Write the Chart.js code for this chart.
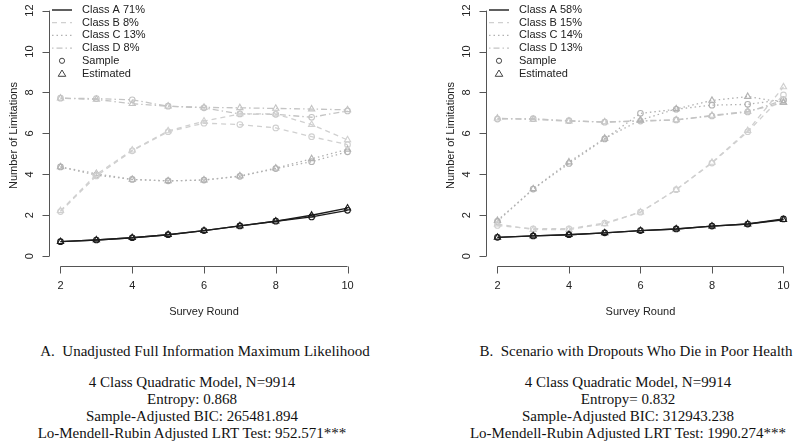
<!DOCTYPE html>
<html>
<head>
<meta charset="utf-8">
<script src="https://cdn.jsdelivr.net/npm/chart.js@4"></script>
<style>
  body { margin: 0; background: #fff; }
  #wrap { position: relative; width: 800px; height: 444px; overflow: hidden; }
  canvas { position: absolute; top: 0; }
  .cap { position: absolute; font-family: "Liberation Serif", "Times New Roman", serif; font-size: 15px; color: #111; text-align: center; white-space: pre; line-height: 17px; }
</style>
</head>
<body>
<div id="wrap">
  <canvas id="leftChart" width="400" height="330" style="left:0"></canvas>
  <canvas id="rightChart" width="400" height="330" style="left:400px"></canvas>
  <div class="cap" style="left:5px; width:400px; top:343px">A.  Unadjusted Full Information Maximum Likelihood</div>
  <div class="cap" style="left:-8px; width:400px; top:374px">4 Class Quadratic Model, N=9914
Entropy: 0.868
Sample-Adjusted BIC: 265481.894
Lo-Mendell-Rubin Adjusted LRT Test: 952.571***</div>
  <div class="cap" style="left:436px; width:400px; top:343px">B.  Scenario with Dropouts Who Die in Poor Health</div>
  <div class="cap" style="left:428px; width:400px; top:374px">4 Class Quadratic Model, N=9914
Entropy= 0.832
Sample-Adjusted BIC: 312943.238
Lo-Mendell-Rubin Adjusted LRT Test: 1990.274***</div>
</div>
<script>
// Data
const rounds = [2, 3, 4, 5, 6, 7, 8, 9, 10];
const xTicks = [2, 4, 6, 8, 10];
const yTicks = [0, 2, 4, 6, 8, 10, 12];
const classNames = ['Class A', 'Class B', 'Class C', 'Class D'];
const leftShares = [71, 8, 13, 8];
const rightShares = [58, 15, 14, 13];

// panel A - unadjusted FIML
const leftEstA = [0.71, 0.79, 0.90, 1.05, 1.25, 1.48, 1.71, 2.00, 2.35];
const leftSampA = [0.71, 0.79, 0.90, 1.05, 1.25, 1.48, 1.71, 1.92, 2.24];
const leftEstB = [2.22, 4.00, 5.18, 6.12, 6.60, 6.95, 6.95, 6.43, 5.68];
const leftSampB = [2.18, 3.92, 5.15, 6.08, 6.50, 6.43, 6.27, 5.84, 5.45];
const leftEstC = [4.36, 4.03, 3.75, 3.68, 3.72, 3.92, 4.30, 4.76, 5.22];
const leftSampC = [4.36, 3.96, 3.75, 3.68, 3.72, 3.90, 4.28, 4.62, 5.10];
const leftEstD = [7.72, 7.66, 7.45, 7.33, 7.27, 7.25, 7.22, 7.19, 7.15];
const leftSampD = [7.72, 7.70, 7.64, 7.33, 7.25, 6.95, 6.93, 6.79, 7.10];

// panel B - dropouts who die in poor health
const rightEstA = [0.92, 0.99, 1.05, 1.14, 1.25, 1.33, 1.47, 1.57, 1.78];
const rightSampA = [0.92, 0.99, 1.05, 1.14, 1.25, 1.33, 1.47, 1.57, 1.82];
const rightEstB = [1.57, 1.30, 1.30, 1.58, 2.15, 3.25, 4.58, 6.13, 8.27];
const rightSampB = [1.50, 1.34, 1.34, 1.62, 2.15, 3.25, 4.55, 6.08, 7.88];
const rightEstC = [1.74, 3.29, 4.60, 5.76, 6.65, 7.20, 7.61, 7.80, 7.52];
const rightSampC = [1.70, 3.28, 4.53, 5.73, 6.98, 7.18, 7.38, 7.42, 7.65];
const rightEstD = [6.74, 6.68, 6.60, 6.56, 6.62, 6.66, 6.88, 7.08, 7.50];
const rightSampD = [6.70, 6.72, 6.62, 6.55, 6.60, 6.66, 6.85, 7.05, 7.62];

const colors = ['#1c1c1c', '#d0d0d0', '#b2b2b2', '#c4c4c4'];
const dashes = [[], [5, 4], [1.5, 3], [1.5, 3, 6, 3]];
const widths = [1.4, 1.3, 1.3, 1.3];
const textCol = '#222';
const font = "11px 'Liberation Sans', Arial, sans-serif";

function pts(vals) {
    return rounds.map((r, i) => ({ x: r, y: vals[i] }));
}

// R-style axes + legend drawn through the chart's own scales
const rAxes = {
    id: 'rAxes',
    afterDraw(chart) {
        const ctx = chart.ctx;
        const xs = chart.scales.x, ys = chart.scales.y;
        const area = chart.chartArea;
        ctx.save();
        ctx.strokeStyle = '#555';
        ctx.lineWidth = 1;
        ctx.fillStyle = textCol;
        ctx.font = font;

        // y axis
        const yx = Math.round(area.left) + 0.5;
        ctx.beginPath();
        ctx.moveTo(yx, ys.getPixelForValue(yTicks[0]));
        ctx.lineTo(yx, ys.getPixelForValue(yTicks[yTicks.length - 1]));
        yTicks.forEach(t => {
            const py = Math.round(ys.getPixelForValue(t)) + 0.5;
            ctx.moveTo(yx, py);
            ctx.lineTo(yx - 7, py);
        });
        ctx.stroke();
        ctx.textAlign = 'center';
        ctx.textBaseline = 'middle';
        yTicks.forEach(t => {
            ctx.save();
            ctx.translate(area.left - 19, ys.getPixelForValue(t));
            ctx.rotate(-Math.PI / 2);
            ctx.fillText(String(t), 0, 0);
            ctx.restore();
        });
        ctx.save();
        ctx.translate(area.left - 35, (area.top + area.bottom) / 2);
        ctx.rotate(-Math.PI / 2);
        ctx.fillText('Number of Limitations', 0, 0);
        ctx.restore();

        // x axis
        const xy = Math.round(area.bottom) + 0.5;
        ctx.beginPath();
        ctx.moveTo(xs.getPixelForValue(xTicks[0]), xy);
        ctx.lineTo(xs.getPixelForValue(xTicks[xTicks.length - 1]), xy);
        xTicks.forEach(t => {
            const px = Math.round(xs.getPixelForValue(t)) + 0.5;
            ctx.moveTo(px, xy);
            ctx.lineTo(px, xy + 7);
        });
        ctx.stroke();
        xTicks.forEach(t => {
            ctx.fillText(String(t), xs.getPixelForValue(t), area.bottom + 20);
        });
        ctx.fillText('Survey Round', (area.left + area.right) / 2, area.bottom + 46);

        // legend
        const shares = chart.options.plugins.rAxes.shares;
        const lx = area.left + 3;
        const tx = area.left + 33;
        ctx.textAlign = 'left';
        classNames.forEach((name, i) => {
            const ly = 10 + i * 12.7;
            ctx.save();
            ctx.strokeStyle = colors[i];
            ctx.lineWidth = widths[i];
            ctx.setLineDash(dashes[i]);
            ctx.beginPath();
            ctx.moveTo(lx, ly);
            ctx.lineTo(lx + 20, ly);
            ctx.stroke();
            ctx.restore();
            ctx.fillText(name + ' ' + shares[i] + '%', tx, ly);
        });
        ctx.strokeStyle = '#444';
        const sy = 10 + 4 * 12.7, ey = 10 + 5 * 12.7;
        ctx.beginPath();
        ctx.arc(lx + 10, sy, 2.6, 0, Math.PI * 2);
        ctx.stroke();
        ctx.beginPath();
        ctx.moveTo(lx + 10, ey - 3.5);
        ctx.lineTo(lx + 13.8, ey + 2.8);
        ctx.lineTo(lx + 6.2, ey + 2.8);
        ctx.closePath();
        ctx.stroke();
        ctx.fillText('Sample', tx, sy);
        ctx.fillText('Estimated', tx, ey);
        ctx.restore();
    }
};

function makeChart(id, est, samp, shares, padLeft, padRight) {
    const datasets = [];
    classNames.forEach((name, i) => {
        [[samp[i], 'circle', 2.8, 'Sample'], [est[i], 'triangle', 3.6, 'Estimated']].forEach(([vals, style, r, kind]) => {
            datasets.push({
                label: name + ' ' + kind,
                data: pts(vals),
                borderColor: colors[i],
                borderWidth: widths[i],
                borderDash: dashes[i],
                pointStyle: style,
                pointRadius: r,
                pointBorderWidth: 1.1,
                pointBorderColor: colors[i],
                pointBackgroundColor: 'rgba(0,0,0,0)',
                tension: 0,
                fill: false
            });
        });
    });
    return new Chart(document.getElementById(id).getContext('2d'), {
        type: 'line',
        data: { datasets: datasets },
        options: {
            responsive: false,
            animation: false,
            layout: { padding: { left: padLeft, right: padRight, top: 0, bottom: 64 } },
            scales: {
                x: { type: 'linear', min: 1.68, max: 10.32, display: false },
                y: { type: 'linear', min: -0.48, max: 12.27, display: false }
            },
            plugins: {
                legend: { display: false },
                tooltip: { enabled: false },
                rAxes: { shares: shares }
            }
        },
        plugins: [rAxes]
    });
}

makeChart('leftChart',
    [leftEstA, leftEstB, leftEstC, leftEstD],
    [leftSampA, leftSampB, leftSampC, leftSampD],
    leftShares, 49, 41);
makeChart('rightChart',
    [rightEstA, rightEstB, rightEstC, rightEstD],
    [rightSampA, rightSampB, rightSampC, rightSampD],
    rightShares, 86, 5);
</script>
</body>
</html>
